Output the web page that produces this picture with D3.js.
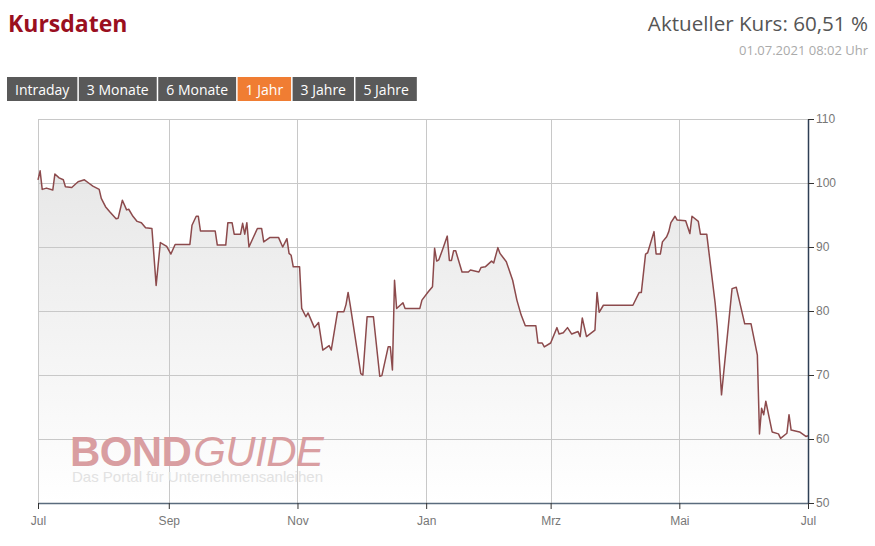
<!DOCTYPE html>
<html>
<head>
<meta charset="utf-8">
<script src="https://cdn.jsdelivr.net/npm/d3@7/dist/d3.min.js"></script>
<style>
  html, body { margin: 0; padding: 0; background: #fff; }
  svg { display: block; }
</style>
</head>
<body>
<svg id="chart" width="875" height="546"></svg>
<script>
// ---- data ----
const dates = [
  "2020-07-01","2020-07-02","2020-07-03","2020-07-05","2020-07-08","2020-07-09","2020-07-11","2020-07-13",
  "2020-07-14","2020-07-17","2020-07-20","2020-07-23","2020-07-25","2020-07-27","2020-07-30","2020-07-31",
  "2020-08-02","2020-08-04","2020-08-07","2020-08-08","2020-08-10","2020-08-12","2020-08-13","2020-08-15",
  "2020-08-17","2020-08-19","2020-08-21","2020-08-24","2020-08-26","2020-08-28","2020-08-31","2020-09-02",
  "2020-09-04","2020-09-11","2020-09-12","2020-09-14","2020-09-15","2020-09-16","2020-09-23","2020-09-24",
  "2020-09-28","2020-09-29","2020-10-01","2020-10-02","2020-10-05","2020-10-06","2020-10-07","2020-10-08",
  "2020-10-09","2020-10-13","2020-10-15","2020-10-16","2020-10-19","2020-10-23","2020-10-25","2020-10-27",
  "2020-10-28","2020-10-29","2020-10-30","2020-11-02","2020-11-03","2020-11-05","2020-11-06","2020-11-09",
  "2020-11-11","2020-11-13","2020-11-16","2020-11-17","2020-11-20","2020-11-23","2020-11-24","2020-11-25",
  "2020-11-26","2020-12-01","2020-12-02","2020-12-04","2020-12-07","2020-12-10","2020-12-11","2020-12-14",
  "2020-12-15","2020-12-16","2020-12-17","2020-12-18","2020-12-21","2020-12-22","2020-12-29","2020-12-30",
  "2021-01-02","2021-01-04","2021-01-05","2021-01-06","2021-01-07","2021-01-09","2021-01-11","2021-01-12",
  "2021-01-13","2021-01-14","2021-01-15","2021-01-18","2021-01-21","2021-01-22","2021-01-26","2021-01-27",
  "2021-01-29","2021-02-01","2021-02-02","2021-02-04","2021-02-05","2021-02-08","2021-02-11","2021-02-13",
  "2021-02-15","2021-02-17","2021-02-22","2021-02-23","2021-02-25","2021-02-26","2021-03-01","2021-03-04",
  "2021-03-05","2021-03-07","2021-03-09","2021-03-11","2021-03-14","2021-03-15","2021-03-16","2021-03-18",
  "2021-03-22","2021-03-23","2021-03-24","2021-03-26","2021-04-09","2021-04-12","2021-04-13","2021-04-15",
  "2021-04-16","2021-04-19","2021-04-20","2021-04-22","2021-04-23","2021-04-25","2021-04-26","2021-04-27",
  "2021-04-29","2021-04-30","2021-05-04","2021-05-06","2021-05-07","2021-05-10","2021-05-11","2021-05-14",
  "2021-05-18","2021-05-19","2021-05-21","2021-05-26","2021-05-28","2021-06-01","2021-06-04","2021-06-07",
  "2021-06-08","2021-06-09","2021-06-10","2021-06-11","2021-06-14","2021-06-17","2021-06-18","2021-06-21",
  "2021-06-22","2021-06-23","2021-06-27","2021-06-30","2021-07-01"
];
const prices = [
  100.5,101.9,99.0,99.2,98.9,101.4,100.8,100.5,
  99.4,99.3,100.2,100.5,100.0,99.5,99.0,97.6,
  96.3,95.5,94.4,94.5,97.3,95.8,95.9,94.8,
  94.0,93.8,93.0,92.9,84.0,90.7,90.1,88.9,
  90.4,90.4,93.4,94.8,94.8,92.5,92.5,90.3,
  90.3,93.8,93.8,92.0,92.0,93.7,92.0,93.8,
  90.0,92.9,92.9,90.8,91.5,91.5,90.0,91.3,
  89.0,88.7,86.9,86.9,80.4,79.1,79.7,77.4,
  78.2,73.9,74.6,73.9,79.9,79.9,81.0,82.9,
  80.9,70.2,70.0,79.1,79.1,69.8,69.9,74.4,
  74.4,70.8,84.8,80.4,81.3,80.4,80.4,81.7,
  83.0,83.8,89.8,87.8,88.0,89.8,91.7,87.9,
  87.9,89.4,89.4,86.1,86.1,86.4,86.1,86.8,
  86.9,87.8,87.5,89.9,89.0,87.7,84.8,81.7,
  79.4,77.7,77.7,75.0,75.0,74.4,75.0,77.4,
  76.4,76.6,77.4,76.4,76.8,76.0,78.9,76.0,
  77.0,82.9,79.8,80.9,80.9,82.9,82.9,88.9,
  89.1,92.4,88.9,88.9,90.8,91.6,92.4,93.8,
  94.8,94.2,94.1,92.1,94.8,94.0,92.0,92.0,
  81.2,77.5,66.9,83.5,83.7,78.0,78.0,73.1,
  60.8,64.8,63.8,65.9,61.1,60.8,60.1,60.9,
  63.8,61.4,61.1,60.4,60.5
];
const xTickDates = ["2020-07-01","2020-09-01","2020-11-01","2021-01-01","2021-03-01","2021-05-01","2021-07-01"];
const xTickLabels = ["Jul","Sep","Nov","Jan","Mrz","Mai","Jul"];
const yTicks = [50,60,70,80,90,100,110];
const buttonLabels = ["Intraday","3 Monate","6 Monate","1 Jahr","3 Jahre","5 Jahre"];
const activeButton = "1 Jahr";
const titleText = "Kursdaten";
const currentText = "Aktueller Kurs: 60,51 %";
const timestampText = "01.07.2021 08:02 Uhr";

// ---- drawing ----
const parse = d3.timeParse("%Y-%m-%d");
const series = dates.map((d, i) => ({ date: parse(d), value: prices[i] }));
const svg = d3.select("#chart");

const L = 38, R = 808, T = 119, B = 503;
const x = d3.scaleTime().domain([parse("2020-07-01"), parse("2021-07-01")]).range([L, R]);
const y = d3.scaleLinear().domain([50, 110]).range([B, T]);

// header
svg.append("text").attr("x", 8).attr("y", 32)
  .attr("font-family", "'Open Sans', sans-serif").attr("font-weight", 700)
  .attr("font-size", 23).attr("fill", "#9a0f1f").text(titleText);
svg.append("text").attr("x", 868).attr("y", 31).attr("text-anchor", "end")
  .attr("font-family", "'Open Sans', sans-serif").attr("font-size", 20.6)
  .attr("fill", "#555").text(currentText);
svg.append("text").attr("x", 868).attr("y", 55).attr("text-anchor", "end")
  .attr("font-family", "'Open Sans', sans-serif").attr("font-size", 13)
  .attr("fill", "#aaa").text(timestampText);

// buttons
let bx = 7;
const bg = svg.append("g");
buttonLabels.forEach(lbl => {
  const t = bg.append("text").attr("y", 95)
    .attr("font-family", "'Open Sans', sans-serif").attr("font-size", 14)
    .attr("fill", "#fff").text(lbl);
  const w = t.node().getComputedTextLength() + 16;
  bg.insert("rect", "text").attr("x", bx).attr("y", 77).attr("width", w).attr("height", 24)
    .attr("fill", lbl === activeButton ? "#f07d33" : "#595959");
  t.attr("x", bx + 8);
  bx += w + 1.5;
});

// gradient
const defs = svg.append("defs");
const grad = defs.append("linearGradient").attr("id", "areaGrad")
  .attr("gradientUnits", "userSpaceOnUse").attr("x1", 0).attr("x2", 0).attr("y1", T).attr("y2", B);
grad.append("stop").attr("offset", "0%").attr("stop-color", "#e4e4e4");
grad.append("stop").attr("offset", "100%").attr("stop-color", "#ffffff");

// area
const area = d3.area().x(d => x(d.date)).y0(B).y1(d => y(d.value));
svg.append("path").datum(series).attr("d", area).attr("fill", "url(#areaGrad)");

// grid
const grid = svg.append("g");
grid.selectAll(".hg").data(yTicks).enter().append("line")
  .attr("x1", L).attr("x2", R).attr("y1", d => y(d) + 0.5).attr("y2", d => y(d) + 0.5)
  .attr("stroke", "#c8c8c8").attr("stroke-width", 1);
grid.selectAll(".vg").data(xTickDates).enter().append("line")
  .attr("x1", d => Math.round(x(parse(d))) + 0.5).attr("x2", d => Math.round(x(parse(d))) + 0.5)
  .attr("y1", T).attr("y2", B).attr("stroke", "#c8c8c8").attr("stroke-width", 1);

// watermark
const wm = svg.append("g");
const wt = wm.append("text").attr("x", 70).attr("y", 466)
  .attr("font-family", "'Liberation Sans', Arial, sans-serif").attr("font-size", 42)
  .attr("fill", "#d99ea1").attr("letter-spacing", -0.6);
wt.append("tspan").attr("font-weight", 700).text("BOND");
wt.append("tspan").attr("font-style", "italic").attr("dx", 2).text("GUIDE");
wm.append("text").attr("x", 72).attr("y", 482)
  .attr("font-family", "'Liberation Sans', Arial, sans-serif").attr("font-size", 15)
  .attr("fill", "#e2e2e2").text("Das Portal für Unternehmensanleihen");

// line
const line = d3.line().x(d => x(d.date)).y(d => y(d.value));
svg.append("path").datum(series).attr("d", line).attr("fill", "none")
  .attr("stroke", "#8c4a4c").attr("stroke-width", 1.5).attr("stroke-linejoin", "round");

// axes
const xAxis = d3.axisBottom(x)
  .tickValues(xTickDates.map(parse))
  .tickFormat((d, i) => xTickLabels[i]).tickSize(6).tickSizeOuter(0);
const gx = svg.append("g").attr("transform", `translate(0,${B})`).call(xAxis);
gx.select(".domain").attr("stroke", "#5a6b7d").attr("stroke-width", 1.5);
gx.selectAll(".tick line").attr("stroke", "#333");
gx.selectAll("text").attr("font-family", "'Liberation Sans', Arial, sans-serif")
  .attr("font-size", 12).attr("fill", "#777").attr("dy", "1.1em");

const yAxis = d3.axisRight(y).tickValues(yTicks).tickSize(6).tickSizeOuter(0);
const gy = svg.append("g").attr("transform", `translate(${R},0)`).call(yAxis);
gy.select(".domain").attr("stroke", "#2e3f55").attr("stroke-width", 1.5);
gy.selectAll(".tick line").attr("stroke", "#333");
gy.selectAll("text").attr("font-family", "'Liberation Sans', Arial, sans-serif")
  .attr("font-size", 12).attr("fill", "#777").attr("x", 8);
</script>
</body>
</html>
